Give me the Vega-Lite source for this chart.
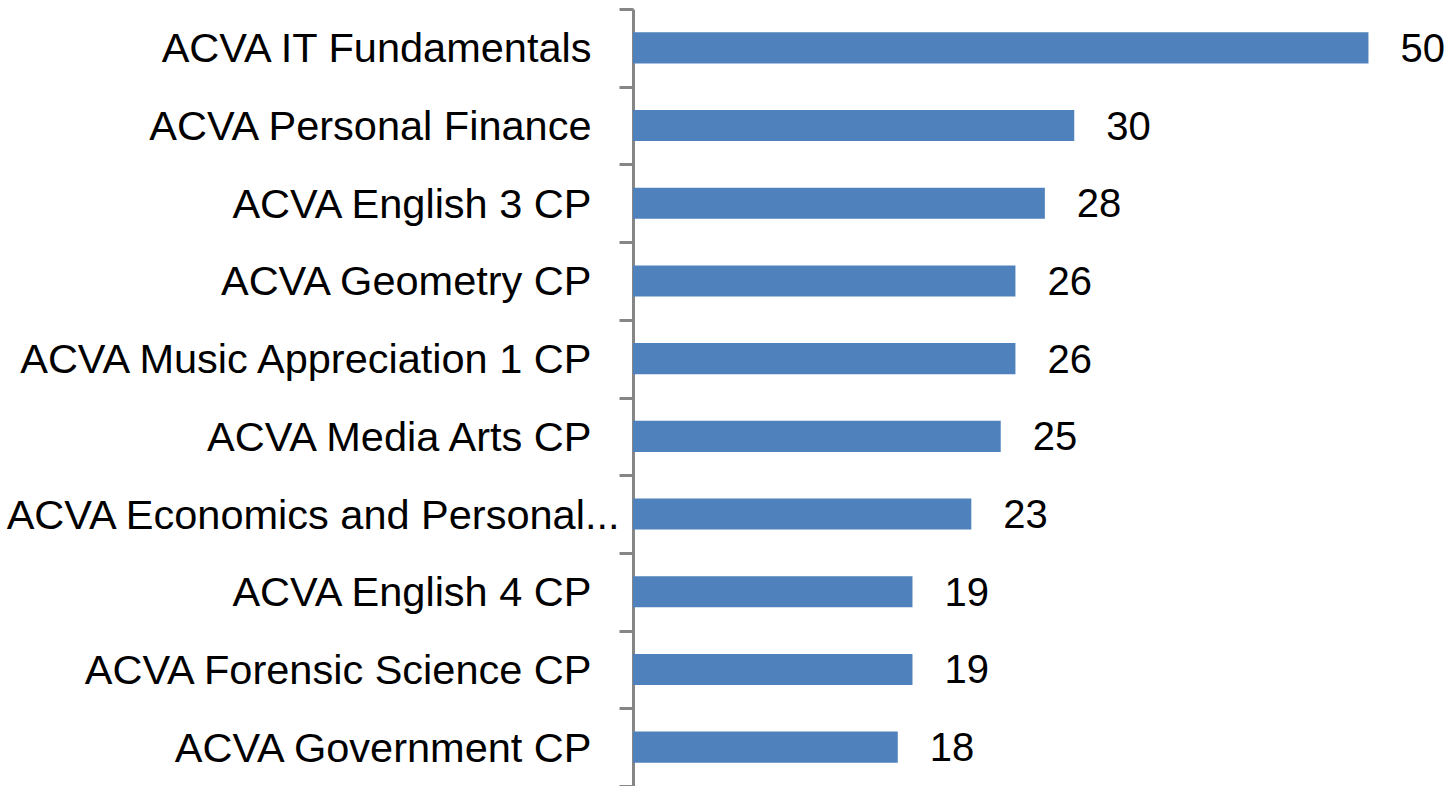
{
  "$schema": "https://vega.github.io/schema/vega-lite/v6.json",
  "autosize": {"type": "none"},
  "padding": {"left": 633, "top": 9, "right": 8, "bottom": 0},
  "width": 809,
  "height": 777,
  "background": "white",
  "config": {"view": {"stroke": null}},
  "data": {
    "values": [
      {"course": "ACVA IT Fundamentals", "count": 50},
      {"course": "ACVA Personal Finance", "count": 30},
      {"course": "ACVA English 3 CP", "count": 28},
      {"course": "ACVA Geometry CP", "count": 26},
      {"course": "ACVA Music Appreciation 1 CP", "count": 26},
      {"course": "ACVA Media Arts CP", "count": 25},
      {"course": "ACVA Economics and Personal...", "count": 23},
      {"course": "ACVA English 4 CP", "count": 19},
      {"course": "ACVA Forensic Science CP", "count": 19},
      {"course": "ACVA Government CP", "count": 18}
    ]
  },
  "encoding": {
    "y": {
      "field": "course",
      "type": "nominal",
      "sort": null,
      "scale": {"paddingInner": 0, "paddingOuter": 0},
      "axis": {
        "title": null,
        "tickBand": "extent",
        "domainColor": "#868686",
        "domainWidth": 3,
        "tickColor": "#868686",
        "tickWidth": 3,
        "tickSize": 14,
        "labelFont": "Liberation Sans",
        "labelFontSize": 41.5,
        "labelColor": "#000000",
        "labelLimit": 700,
        "labelOffset": 2,
        "labelPadding": {"condition": {"test": "datum.value === 'ACVA Economics and Personal...'", "value": 0}, "value": 28}
      }
    },
    "x": {
      "field": "count",
      "type": "quantitative",
      "scale": {"domain": [0, 55], "nice": false},
      "axis": null
    }
  },
  "layer": [
    {
      "mark": {"type": "bar", "color": "#4F81BD", "height": {"band": 0.4}}
    },
    {
      "mark": {"type": "text", "align": "left", "baseline": "middle", "dx": 32, "dy": 2, "font": "Liberation Sans", "fontSize": 40, "color": "#000000"},
      "encoding": {"text": {"field": "count", "type": "quantitative"}}
    }
  ]
}
